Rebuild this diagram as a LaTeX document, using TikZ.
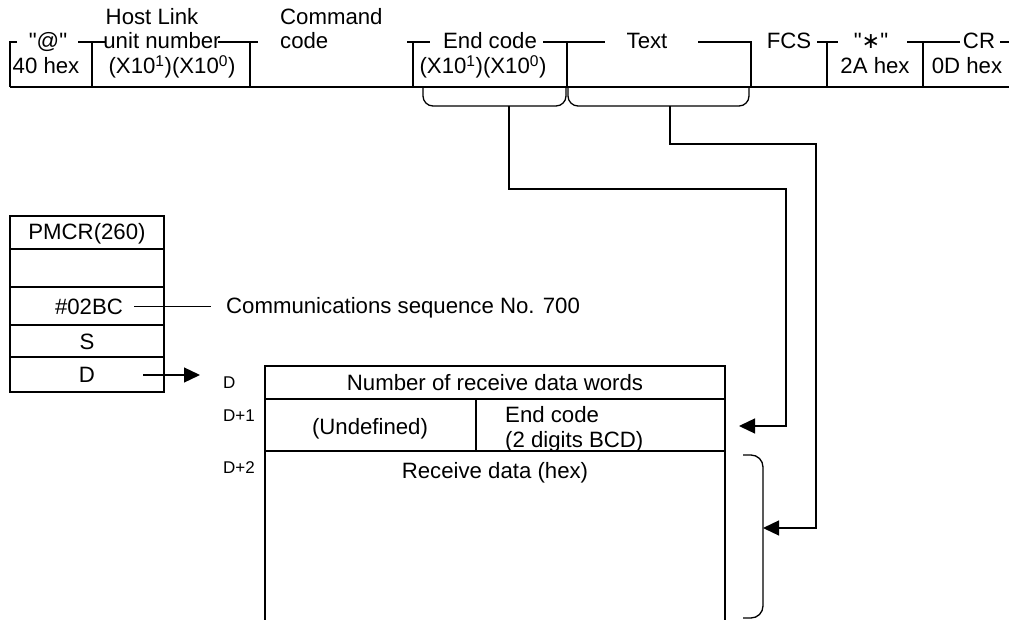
\documentclass[tikz,border=0pt]{standalone}
\usepackage{fontspec}
\setmainfont{Liberation Sans}
\newfontfamily\dejavu{DejaVu Sans}
\font\qf="Liberation Sans" at 22.2pt
\newcommand{\sq}{{\qf\char"22}}
\usetikzlibrary{arrows.meta}
\begin{document}
\begin{tikzpicture}[x=1pt,y=-1pt,
  frame/.style={line width=1.9pt},
  conn/.style={line width=1.3pt},
  tipped/.style={-{Triangle[length=16pt,width=15pt]}},
  txt/.style={font=\fontsize{22.2}{24}\selectfont, inner sep=0pt, anchor=base},
  txtw/.style={txt, anchor=base west},
  small/.style={font=\fontsize{17}{20}\selectfont, inner sep=0pt, anchor=base west}]
\useasboundingbox (0,0) rectangle (1009,620);

% ---------- frame format at top ----------
\draw[frame] (10,87) -- (1009,87);
\draw[frame] (17,42) -- (10,42) -- (10,87);
\foreach \x in {92,250,413,567,751,827,923} \draw[frame] (\x,42) -- (\x,87);
\draw[frame] (78,42) -- (105,42);
\draw[frame] (218,42) -- (258,42);
\draw[frame] (407,42) -- (430,42);
\draw[frame] (543,42) -- (605,42);
\draw[frame] (698,42) -- (752,42);
\draw[frame] (817,42) -- (838,42);
\draw[frame] (907,42) -- (960,42);
\draw[frame] (1000,42) -- (1009,42);

\node[txt] (at) at (48,49) {\sq @\sq};
\node[txt] (h40) at (46,74) {40 hex};
\node[txt] (hl) at (152,25) {Host Link};
\node[txt] (un) at (162,49) {unit number};
\node[txt] (unx) at (172,74) {(X10\textsuperscript{1})(X10\textsuperscript{0})};
\node[txtw] (cmd) at (280,25) {Command};
\node[txtw] (cmdc) at (280,49) {code};
\node[txt] (ec) at (490,49) {End code};
\node[txt] (ecx) at (483,74) {(X10\textsuperscript{1})(X10\textsuperscript{0})};
\node[txt] (tx) at (647,49) {Text};
\node[txt] (fcs) at (789,49) {FCS};
\node[txt] (ast) at (871,49) {\sq{\dejavu ∗}\sq};
\node[txt] (h2a) at (875,74) {2A hex};
\node[txt] (cr) at (979,49) {CR};
\node[txt] (h0d) at (967,74) {0D hex};

% braces under End code and Text
\draw[conn,rounded corners=10pt] (423,87) -- (423,106) -- (566,106) -- (566,87);
\draw[conn,rounded corners=10pt] (568,87) -- (568,106) -- (749,106) -- (749,87);
\coordinate (ecb) at (509,106);
\coordinate (txb) at (670,106);

% ---------- PMCR instruction ----------
\draw[frame] (10,216) rectangle (164,392);
\foreach \y in {249,287,325,357} \draw[frame] (10,\y) -- (164,\y);
\node[txt] (pm) at (87,240) {PMCR(260)};
\node[txt] (n02) at (89,314) {\#02BC};
\node[txt] (ss) at (87,349) {S};
\node[txt] (dd) at (87,382) {D};
\node[txtw] (comm) at (226,313) {Communications sequence No. 700};
\draw[conn] ([xshift=11pt]n02.east) -- ([xshift=-15pt]comm.west |- n02.east);
\coordinate (dptr) at (200,375);
\draw[conn,tipped] ([xshift=48pt]dd.east |- dptr) -- (dptr);

% ---------- receive area ----------
\node[small] (lD) at (223,388) {D};
\node[small] (lD1) at (223,421) {D+1};
\node[small] (lD2) at (223,473) {D+2};

\draw[frame] (265,620) -- (265,366) -- (725,366) -- (725,620);
\draw[frame] (265,399) -- (725,399);
\draw[frame] (265,451) -- (725,451);
\draw[frame] (476,399) -- (476,451);
\node[txt] (nrw) at (495,390) {Number of receive data words};
\node[txt] (und) at (370,434) {(Undefined)};
\node[txtw] (ecd) at (505,422) {End code};
\node[txtw] (bcd) at (505,447) {(2 digits BCD)};
\node[txt] (rd) at (495,478) {Receive data (hex)};

% bracket for receive data
\draw[conn,rounded corners=12pt] (743,455) -- (763,455) -- (763,618) -- (743,618);
\coordinate (ecin) at (739,426);
\coordinate (rdin) at (763,528);

% connectors
\draw[conn,tipped] (ecb) -- (509,189) -- (786,189) -- (786,426) -- (ecin);
\draw[conn,tipped] (txb) -- (670,144) -- (816,144) -- (816,528) -- (rdin);
\end{tikzpicture}
\end{document}
